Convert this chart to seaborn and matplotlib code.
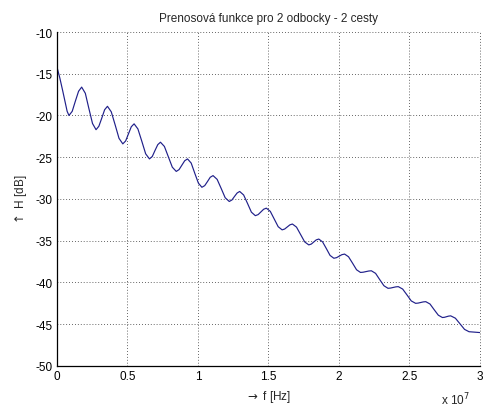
import pandas as pd
import seaborn as sns
import matplotlib
matplotlib.use("Agg")
import matplotlib.pyplot as plt

# frequency in units of 1e7 Hz, magnitude in dB
f = [0.000, 0.020, 0.040, 0.060, 0.072, 0.085,
     0.108, 0.130, 0.153, 0.175,
     0.201, 0.226, 0.252, 0.277,
     0.297, 0.318, 0.338, 0.358,
     0.385, 0.413, 0.440, 0.467,
     0.487, 0.507, 0.527, 0.547,
     0.574, 0.602, 0.629, 0.656,
     0.676, 0.695, 0.715, 0.734,
     0.762, 0.790, 0.818, 0.846,
     0.866, 0.886, 0.906, 0.926,
     0.952, 0.977, 1.003, 1.028,
     1.048, 1.068, 1.087, 1.107,
     1.136, 1.165, 1.193, 1.222,
     1.241, 1.259, 1.278, 1.296,
     1.324, 1.352, 1.379, 1.407,
     1.427, 1.446, 1.466, 1.485,
     1.513, 1.541, 1.569, 1.597,
     1.615, 1.634, 1.652, 1.670,
     1.699, 1.728, 1.757, 1.786,
     1.804, 1.822, 1.839, 1.857,
     1.884, 1.911, 1.937, 1.964,
     1.983, 2.002, 2.021, 2.040,
     2.068, 2.097, 2.125, 2.153,
     2.172, 2.192, 2.211, 2.230,
     2.260, 2.289, 2.319, 2.348,
     2.366, 2.385, 2.403, 2.421,
     2.452, 2.483, 2.513, 2.544,
     2.562, 2.580, 2.598, 2.616,
     2.646, 2.675, 2.705, 2.734,
     2.749, 2.764, 2.778, 2.793,
     2.826, 2.858, 2.891, 2.923,
     2.960, 3.000]
H = [-14.2, -15.5, -17.0, -18.6, -19.5, -20.0,
     -19.50, -18.30, -17.10, -16.6,
     -17.34, -19.15, -20.96, -21.7,
     -21.29, -20.30, -19.31, -18.9,
     -19.56, -21.15, -22.74, -23.4,
     -23.05, -22.20, -21.35, -21.0,
     -21.61, -23.10, -24.59, -25.2,
     -24.91, -24.20, -23.49, -23.2,
     -23.71, -24.95, -26.19, -26.7,
     -26.48, -25.95, -25.42, -25.2,
     -25.70, -26.90, -28.10, -28.6,
     -28.40, -27.90, -27.40, -27.2,
     -27.65, -28.75, -29.85, -30.3,
     -30.12, -29.70, -29.28, -29.1,
     -29.52, -30.55, -31.58, -32.0,
     -31.87, -31.55, -31.23, -31.1,
     -31.48, -32.40, -33.32, -33.7,
     -33.60, -33.35, -33.10, -33.0,
     -33.37, -34.25, -35.14, -35.5,
     -35.40, -35.15, -34.90, -34.8,
     -35.14, -35.95, -36.76, -37.1,
     -37.03, -36.85, -36.67, -36.6,
     -36.92, -37.70, -38.48, -38.8,
     -38.77, -38.70, -38.63, -38.6,
     -38.91, -39.65, -40.39, -40.7,
     -40.67, -40.60, -40.53, -40.5,
     -40.79, -41.50, -42.21, -42.5,
     -42.47, -42.40, -42.33, -42.3,
     -42.58, -43.25, -43.92, -44.2,
     -44.17, -44.10, -44.03, -44.0,
     -44.28, -44.95, -45.62, -45.9,
     -45.95, -46.0]

xticks = [0, 0.5, 1, 1.5, 2, 2.5, 3]
xticklabels = ["0", "0.5", "1", "1.5", "2", "2.5", "3"]
yticks = [-50, -45, -40, -35, -30, -25, -20, -15, -10]

df = pd.DataFrame({"f": f, "H": H})

sns.set_style("white")
plt.rcParams["font.family"] = ["Liberation Sans", "DejaVu Sans"]
plt.rcParams["axes.unicode_minus"] = False

fig = plt.figure(figsize=(4.85, 4.1), dpi=100)
ax = fig.add_axes([0.1175, 0.105, 0.872, 0.8145])

sns.lineplot(data=df, x="f", y="H", ax=ax, color="#20208a", linewidth=0.85,
             sort=False, estimator=None)

ax.set_xlim(0, 3)
ax.set_ylim(-50, -10)
ax.set_xticks(xticks)
ax.set_xticklabels(xticklabels)
ax.set_yticks(yticks)
ax.tick_params(direction="in", length=4, width=0.8, labelsize=8.5,
               colors="black", pad=3)

ax.grid(True, color="#333333", linestyle=(0, (1, 2.5)), linewidth=0.6)
for gl in ax.get_xgridlines() + ax.get_ygridlines():
    gl.set_clip_on(False)

for s in ["top", "right"]:
    ax.spines[s].set_visible(False)
for s in ["left", "bottom"]:
    ax.spines[s].set_color("black")
    ax.spines[s].set_linewidth(0.9)

ax.set_title("Prenosová funkce pro 2 odbocky - 2 cesty", fontsize=8.5, pad=8)
ax.set_xlabel(r"$\rightarrow$ f [Hz]", fontsize=8.5, labelpad=4)
ax.set_ylabel(r"$\uparrow$ H [dB]", fontsize=8.5, labelpad=5)
fig.text(0.94, 0.005, "x 10$^7$", fontsize=8.5, ha="center", va="bottom")

fig.savefig("out.png", dpi=100)
